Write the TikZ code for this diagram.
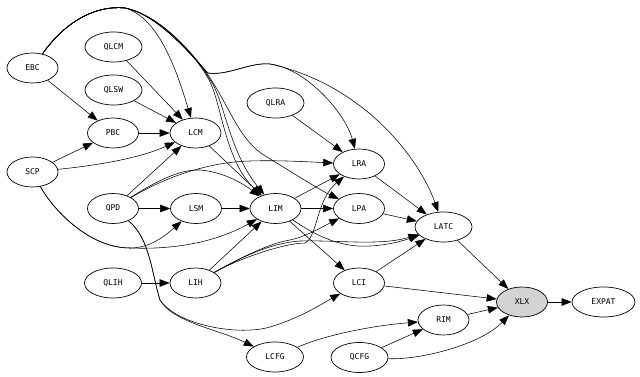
\documentclass[tikz,border=0pt]{standalone}
\usepackage{fontspec}
\setmonofont{DejaVu Sans Mono}
\usetikzlibrary{shapes.geometric,arrows.meta}
\begin{document}
\begin{tikzpicture}[x=1pt,y=-1pt,
  nd/.style={ellipse,draw,line width=0.7pt,inner sep=0pt,minimum height=30pt,minimum width=51pt,font=\ttfamily\fontsize{8}{9}\selectfont},
  nfour/.style={nd,minimum width=57pt},
  nfive/.style={nd,minimum width=63pt},
  edge/.style={line width=0.55pt,-{Triangle[length=10pt,width=7.5pt]}}]
\useasboundingbox (0,0) rectangle (640,377);
% nodes
\node[nd] (EBC) at (32.5,68) {EBC};
\node[nfour] (QLCM) at (113.5,47) {QLCM};
\node[nfour] (QLSW) at (113.5,90) {QLSW};
\node[nd] (PBC) at (113,133) {PBC};
\node[nd] (LCM) at (195.5,133) {LCM};
\node[nd] (SCP) at (32.5,172) {SCP};
\node[nfour] (QLRA) at (275.5,103) {QLRA};
\node[nd] (LRA) at (359,164) {LRA};
\node[nd] (QPD) at (113,208.5) {QPD};
\node[nd] (LSM) at (196,208.5) {LSM};
\node[nd] (LIM) at (275.5,208.5) {LIM};
\node[nd] (LPA) at (359,208.5) {LPA};
\node[nfour] (LATC) at (443.5,227) {LATC};
\node[nfour] (QLIH) at (113,283) {QLIH};
\node[nd] (LIH) at (195.5,283) {LIH};
\node[nd] (LCI) at (359,283) {LCI};
\node[nd,fill={rgb,255:red,211;green,211;blue,211}] (XLX) at (522,302) {XLX};
\node[nfive] (EXPAT) at (603.5,302) {EXPAT};
\node[nd] (RIM) at (443.5,320) {RIM};
\node[nfour] (QCFG) at (359.5,357.5) {QCFG};
\node[nfour] (LCFG) at (275,357) {LCFG};
% edges from EBC
\draw[edge] (EBC) -- (PBC);
\draw[edge] (EBC) .. controls (65,22) and (95,5) .. (125,8) .. controls (160,18) and (178,75) .. (LCM);
\draw[edge] (EBC) .. controls (65,22) and (95,5) .. (125,8) .. controls (160,15) and (195,55) .. (208,78) .. controls (222,102) and (224,160) .. (LIM);
\draw[edge] (EBC) .. controls (65,22) and (95,5) .. (125,8) .. controls (160,15) and (195,55) .. (209,78) .. controls (225,100) and (228,150) .. (LIM);
\draw[edge] (EBC) .. controls (65,22) and (95,5) .. (125,8) .. controls (160,15) and (195,55) .. (210,78) .. controls (230,108) and (240,142) .. (267,157) .. controls (298,176) and (320,190) .. (LPA);
\draw[edge] (EBC) .. controls (65,22) and (95,5) .. (125,8) .. controls (160,15) and (195,60) .. (208,73) .. controls (228,76) and (250,62) .. (270,64) .. controls (305,68) and (345,112) .. (LRA);
\draw[edge] (EBC) .. controls (65,22) and (95,5) .. (125,8) .. controls (160,15) and (195,60) .. (208,73) .. controls (228,76) and (250,62) .. (270,64) .. controls (365,85) and (420,160) .. (LATC);
% left cluster
\draw[edge] (QLCM) -- (LCM);
\draw[edge] (QLSW) -- (LCM);
\draw[edge] (PBC) -- (LCM);
\draw[edge] (SCP) -- (PBC);
\draw[edge] (SCP) .. controls (100,165) and (140,158) .. (LCM);
\draw[edge] (SCP) .. controls (52,208) and (88,248) .. (130,248) .. controls (150,248) and (165,236) .. (LSM);
\draw[edge] (SCP) .. controls (52,208) and (88,248) .. (130,248) .. controls (180,250) and (220,240) .. (LIM);
\draw[edge] (LCM) -- (LIM);
\draw[edge] (QPD) -- (LCM);
\draw[edge] (QPD) .. controls (160,180) and (205,162) .. (250,161) .. controls (280,160) and (310,162) .. (LRA);
\draw[edge] (QPD) .. controls (155,182) and (180,169) .. (200,170) .. controls (225,172) and (245,185) .. (LIM);
\draw[edge] (QPD) -- (LSM);
\draw[edge] (QPD) .. controls (150,238) and (152,275) .. (160,300) .. controls (172,322) and (220,330) .. (LCFG);
\draw[edge] (QPD) .. controls (150,238) and (152,275) .. (160,300) .. controls (178,326) and (240,336) .. (270,327) .. controls (300,318) and (320,305) .. (LCI);
\draw[edge] (LSM) -- (LIM);
\draw[edge] (QLIH) -- (LIH);
\draw[edge] (LIH) -- (LIM);
\draw[edge] (LIH) .. controls (240,258) and (270,243) .. (300,241) .. controls (340,240) and (380,246) .. (LATC);
\draw[edge] (LIH) .. controls (240,258) and (270,243) .. (290,240) .. controls (305,237) and (320,228) .. (LPA);
\draw[edge] (LIH) .. controls (240,258) and (285,243) .. (305,243) .. controls (318,236) and (316,200) .. (LRA);
\draw[edge] (QLRA) -- (LRA);
% middle
\draw[edge] (LIM) -- (LRA);
\draw[edge] (LIM) -- (LPA);
\draw[edge] (LIM) -- (LCI);
\draw[edge] (LIM) .. controls (315,235) and (340,248) .. (370,246) .. controls (390,245) and (405,240) .. (LATC);
\draw[edge] (LRA) -- (LATC);
\draw[edge] (LPA) -- (LATC);
\draw[edge] (LCI) -- (LATC);
\draw[edge] (LCI) -- (XLX);
\draw[edge] (LATC) -- (XLX);
\draw[edge] (RIM) -- (XLX);
\draw[edge] (QCFG) -- (RIM);
\draw[edge] (QCFG) .. controls (420,360) and (480,345) .. (XLX);
\draw[edge] (LCFG) .. controls (330,333) and (380,325) .. (RIM);
\draw[edge] (XLX) -- (EXPAT);
\end{tikzpicture}
\end{document}
